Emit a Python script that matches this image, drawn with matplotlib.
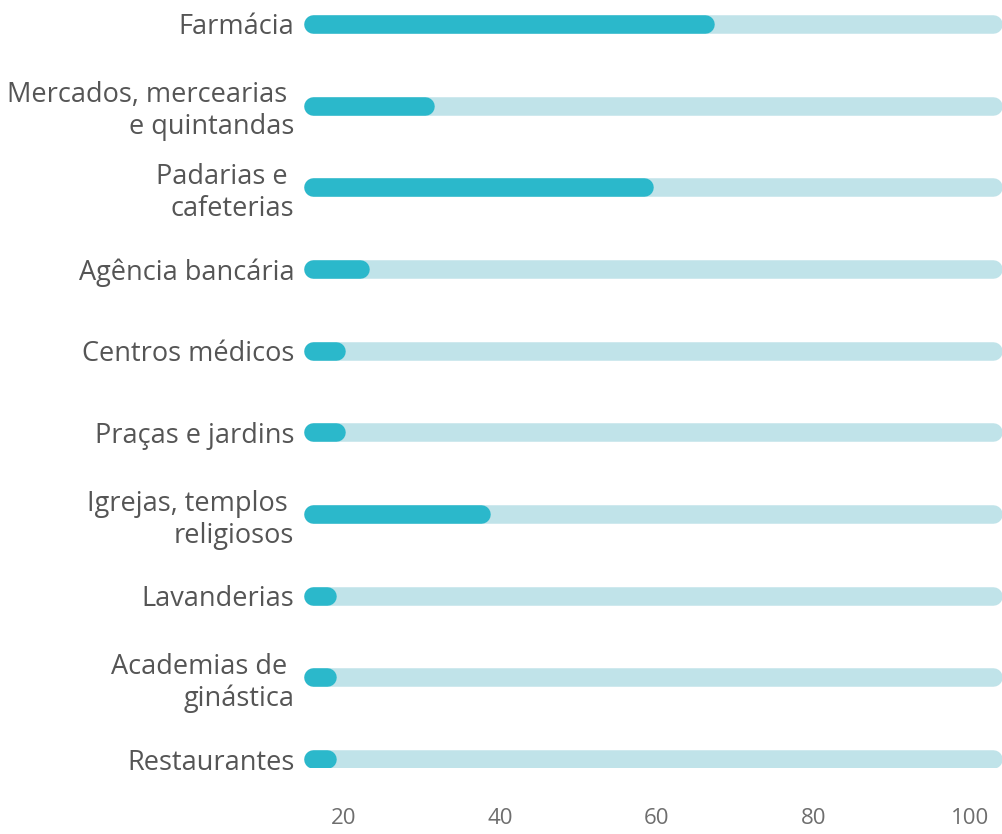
import matplotlib
matplotlib.use("Agg")
import matplotlib.pyplot as plt

categories = [
    "Farmácia",
    "Mercados, mercearias \ne quintandas",
    "Padarias e \ncafeterias",
    "Agência bancária",
    "Centros médicos",
    "Praças e jardins",
    "Igrejas, templos \nreligiosos",
    "Lavanderias",
    "Academias de \nginástica",
    "Restaurantes",
]
values = [67.4, 31.5, 59.6, 23.2, 20.1, 20.1, 38.7, 19.0, 19.0, 19.0]
xticks = [20, 40, 60, 80, 100]

FG = "#2bb8cb"
BG = "#c0e3e9"
TXT = "#555555"

W, H = 1002, 834
fig = plt.figure(figsize=(W / 100, H / 100), dpi=100)
left_px, right_px = 304, 1002
top_px, bot_px = 15, 768
ax = fig.add_axes([left_px / W, 1 - bot_px / H, (right_px - left_px) / W, (bot_px - top_px) / H])

px_per_unit = 7.82
x0 = 20 + (left_px - 344) / px_per_unit
x1 = 20 + (right_px - 344) / px_per_unit
ax.set_xlim(x0, x1)
pad = 9 / 81.7
ax.set_ylim(len(categories) - 1 + pad, -pad)

lw_px = 18.5
lw_pt = lw_px * 72 / 100
r = (lw_px / 2) / px_per_unit  # cap radius in data units

for i, v in enumerate(values):
    ax.plot([x0 + r, x1 - r], [i, i], color=BG, lw=lw_pt, solid_capstyle="round", zorder=1)
    ax.plot([x0 + r, v - r], [i, i], color=FG, lw=lw_pt, solid_capstyle="round", zorder=2)

ax.set_yticks(range(len(categories)))
ax.set_yticklabels(categories, fontsize=19.5, color=TXT, family="Open Sans",
                   linespacing=1.2)
ax.set_xticks(xticks)
ax.set_xticklabels([str(t) for t in xticks], fontsize=16, color="#6e6e6e", family="Open Sans")
ax.tick_params(axis="y", length=0, pad=7)
ax.tick_params(axis="x", length=0, pad=29)
for s in ax.spines.values():
    s.set_visible(False)

fig.savefig("out.png", dpi=100)
